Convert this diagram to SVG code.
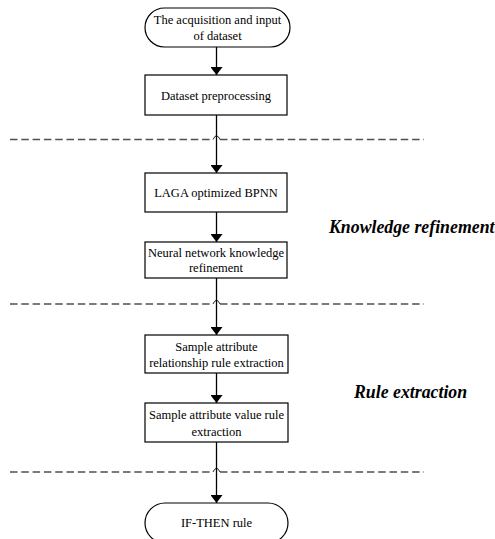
<svg xmlns="http://www.w3.org/2000/svg" width="495" height="539" viewBox="0 0 495 539">
<style>
.box{fill:#fff;stroke:#000;stroke-width:1.2}
.t{font-family:"Liberation Serif","Times New Roman",serif;font-size:12.5px;fill:#000;text-anchor:middle}
.lbl{font-family:"Liberation Serif","Times New Roman",serif;font-size:17.8px;font-weight:bold;font-style:italic;fill:#000}
.dash{stroke:#505050;stroke-width:1.4;stroke-dasharray:7.5,3.8;fill:none}
.hop{stroke:#222;stroke-width:1;fill:none}
.c{stroke:#000;stroke-width:1.3;fill:none;marker-end:url(#ah)}
</style>
<defs>
<marker id="ah" viewBox="0 0 8 12" refX="8" refY="6" markerWidth="8" markerHeight="12" markerUnits="userSpaceOnUse" orient="auto">
<path d="M0,0 L8,6 L0,12 Z" fill="#000"/>
</marker>
</defs>
<rect width="495" height="539" fill="#fff"/>
<g id="separators">
<path class="dash" d="M10,139.5 H213 M220,139.5 H424"/>
<path class="hop" d="M213,139.5 Q216.5,132 220,139.5"/>
<path class="dash" d="M10,304 H213 M220,304 H424"/>
<path class="hop" d="M213,304 Q216.5,296.5 220,304"/>
<path class="dash" d="M10,472 H213 M220,472 H424"/>
<path class="hop" d="M213,472 Q216.5,464.5 220,472"/>
</g>
<g id="connectors">
<path class="c" d="M216.5,47 V75"/>
<path class="c" d="M216.5,115 V173"/>
<path class="c" d="M216.5,212 V242"/>
<path class="c" d="M216.5,278 V335"/>
<path class="c" d="M216.5,373 V403"/>
<path class="c" d="M216.5,442 V503"/>
</g>
<g id="n1">
<rect class="box" x="145" y="8" width="145" height="39" rx="19.5"/>
<text class="t" x="217.5" y="24">The acquisition and input</text>
<text class="t" x="217.5" y="40">of dataset</text>
</g>
<g id="n2">
<rect class="box" x="145" y="75" width="142" height="40"/>
<text class="t" x="216" y="99.5">Dataset preprocessing</text>
</g>
<g id="n3">
<rect class="box" x="145" y="173" width="142" height="39"/>
<text class="t" x="216" y="197">LAGA optimized BPNN</text>
</g>
<g id="n4">
<rect class="box" x="145" y="242" width="142" height="36"/>
<text class="t" x="216" y="256.5">Neural network knowledge</text>
<text class="t" x="216" y="272">refinement</text>
</g>
<g id="n5">
<rect class="box" x="145" y="335" width="143" height="38"/>
<text class="t" x="216.5" y="351">Sample attribute</text>
<text class="t" x="216.5" y="367">relationship rule extraction</text>
</g>
<g id="n6">
<rect class="box" x="145" y="403" width="143" height="39"/>
<text class="t" x="216.5" y="419">Sample attribute value rule</text>
<text class="t" x="216.5" y="436">extraction</text>
</g>
<g id="n7">
<rect class="box" x="145" y="503" width="143" height="40" rx="20"/>
<text class="t" x="216.5" y="527">IF-THEN rule</text>
</g>
<g id="labels">
<text class="lbl" x="329" y="233">Knowledge refinement</text>
<text class="lbl" x="354" y="398">Rule extraction</text>
</g>
</svg>
